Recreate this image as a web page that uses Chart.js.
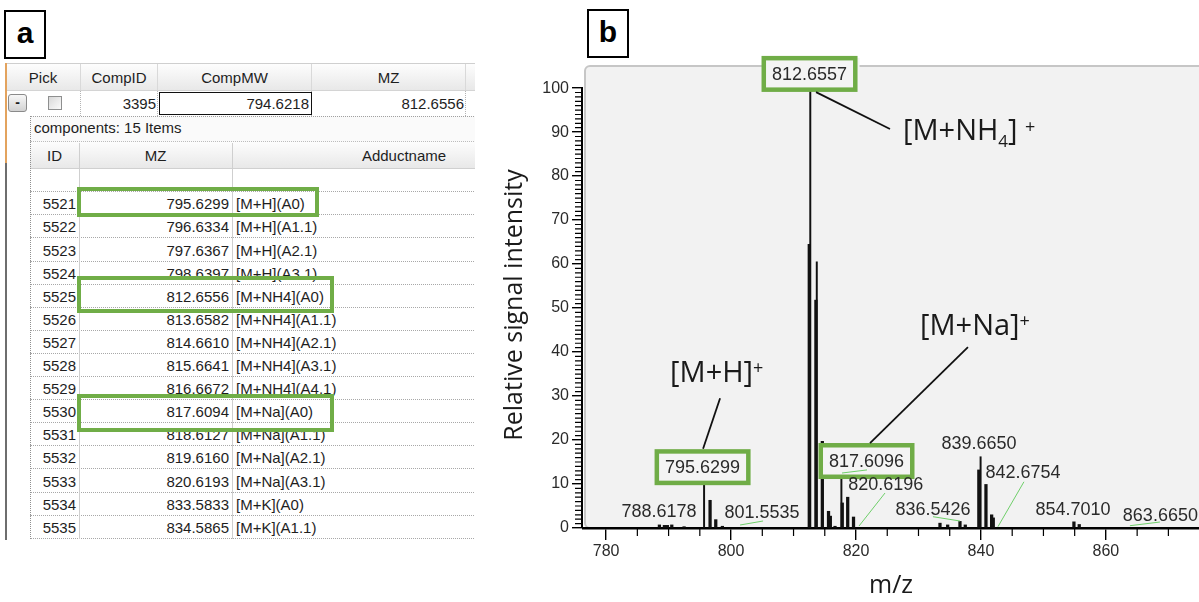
<!DOCTYPE html>
<html>
<head>
<meta charset="utf-8">
<script src="https://cdn.jsdelivr.net/npm/chart.js@4.4.1/dist/chart.umd.min.js"></script>
<style>
    body { margin: 0; width: 1199px; height: 602px; background: #fff; position: relative; overflow: hidden; font-family: 'Liberation Sans', Arial, sans-serif; }
    .panel-tag { position: absolute; width: 38px; height: 45px; border: 2px solid #000; font: bold 30px 'Liberation Sans', Arial, sans-serif; text-align: center; line-height: 42px; }
    #grid { position: absolute; left: 0; top: 0; width: 475px; height: 602px; overflow: hidden; font-size: 15px; color: #1e1e1e; }
    #grid div { position: absolute; box-sizing: border-box; white-space: nowrap; }
    #spectrum { position: absolute; left: 490px; top: 0; }
</style>
</head>
<body>
<div class="panel-tag" style="left:4px;top:10px;">a</div>
<div class="panel-tag" style="left:587px;top:9px;">b</div>
<div id="grid"></div>
<canvas id="spectrum" width="709" height="602"></canvas>

<script>
    // ---- panel a: component table ----
    const compColumns = ['Pick', 'CompID', 'CompMW', 'MZ'];
    const compValues = ['', '3395', '794.6218', '812.6556'];
    const componentCaption = 'components: 15 Items';
    const componentColumns = ['ID', 'MZ', 'Adductname'];
    const componentIds = [5521, 5522, 5523, 5524, 5525, 5526, 5527, 5528, 5529, 5530, 5531, 5532, 5533, 5534, 5535];
    const componentMz = ['795.6299', '796.6334', '797.6367', '798.6397', '812.6556', '813.6582', '814.6610', '815.6641',
        '816.6672', '817.6094', '818.6127', '819.6160', '820.6193', '833.5833', '834.5865'];
    const adductNames = ['[M+H](A0)', '[M+H](A1.1)', '[M+H](A2.1)', '[M+H](A3.1)', '[M+NH4](A0)', '[M+NH4](A1.1)',
        '[M+NH4](A2.1)', '[M+NH4](A3.1)', '[M+NH4](A4.1)', '[M+Na](A0)', '[M+Na](A1.1)', '[M+Na](A2.1)',
        '[M+Na](A3.1)', '[M+K](A0)', '[M+K](A1.1)'];

    // ---- panel b: spectrum ----
    const profileMz = [788.53, 789.33, 789.81, 790.51, 792.48, 796.64, 797.55, 798.61, 812.52, 813.58, 814.61, 815.6,
        815.89, 816.64, 817.8, 818.67, 819.6, 833.44, 834.67, 836.64, 837.49, 839.66, 840.8, 841.71, 841.97, 854.88, 855.73];
    const profileIntensity = [0.7, 0.6, 0.6, 0.7, 0.3, 6.3, 1.9, 0.4, 64.5, 51.8, 19.7, 3.8,
        2.7, 0.4, 5.7, 7.0, 2.5, 1.1, 0.7, 1.5, 0.7, 13.2, 9.9, 3.0, 2.3, 1.4, 0.8];
    const centroidMz = [795.68, 812.68, 813.72, 817.66, 839.94];
    const centroidIntensity = [10.5, 100, 60.5, 14, 16.2];
    const peakLabels = ['788.6178', '795.6299', '801.5535', '812.6557', '817.6096', '820.6196', '836.5426',
        '839.6650', '842.6754', '854.7010', '863.6650'];
    const boxedLabels = ['795.6299', '812.6557', '817.6096'];
    const xTicks = [780, 800, 820, 840, 860];
    const yTicks = [0, 10, 20, 30, 40, 50, 60, 70, 80, 90, 100];

    // label placement in data units (m/z, intensity) - layout only
    const peakLabelAt = {
        '788.6178': [788.48, 3.6], '795.6299': [795.44, 13.6], '801.5535': [804.96, 3.4],
        '812.6557': [812.56, 103.0], '817.6096': [821.68, 15.0], '820.6196': [824.75, 9.8],
        '836.5426': [832.32, 4.1], '839.6650': [839.68, 19.0], '842.6754': [846.72, 12.6],
        '854.7010': [854.72, 4.1], '863.6650': [868.72, 2.8],
    };
    const greenLeaders = [
        [[801.44, 0.68], [805.12, 1.59]], [[817.76, 12.5], [821.76, 13.2]], [[820.48, 0.45], [824.64, 7.95]],
        [[832.32, 2.57], [836.64, 1.59]], [[842.72, 0.3], [846.88, 10.5]], [[863.84, 0.52], [868.64, 1.36]],
    ];
    // text parts: 0 normal, 1 subscript, 2 superscript
    const adductLabels = [
        { parts: [['[M+NH', 0], ['4', 1], ['] ', 0], ['+', 2]], at: [827.52, 88.2], leader: [[813.6, 99.1], [825.44, 90.7]] },
        { parts: [['[M+Na]', 0], ['+', 2]], at: [830.24, 43.9], leader: [[837.92, 41.1], [822.24, 19.3]] },
        { parts: [['[M+H]', 0], ['+', 2]], at: [790.24, 33.2], leader: [[798.24, 29.5], [795.52, 18.0]] },
    ];

    const grid = document.getElementById('grid');
    function cell(css, text) {
        const d = document.createElement('div');
        d.style.cssText = css;
        if (text != null) d.textContent = text;
        grid.appendChild(d);
        return d;
    }

    function buildTable() {
        const masterCols = [[6, 81], [81, 158], [158, 312], [312, 466], [466, 480]];
        cell('left:6px;top:63px;width:474px;height:28px;background:linear-gradient(#fdfdfd,#e8e8e8);border-top:1px solid #cfcfcf;border-bottom:1px solid #d4d4d4;');
        masterCols.forEach(([l, r], i) => {
            cell(`left:${l}px;top:64px;width:${r - l}px;height:26px;line-height:27px;text-align:center;border-right:1px solid #d9d9d9;`, compColumns[i] || '');
            cell(`left:${r - 1}px;top:91px;width:1px;height:25px;border-left:1px dotted #b4b4b4;`);
        });

        cell('left:8px;top:94px;width:19px;height:18px;border:1px solid #8a8a8a;border-radius:3px;background:linear-gradient(#f7f7f7,#d2d2d2);text-align:center;line-height:14px;font-size:14px;font-weight:bold;', '-');
        cell('left:48px;top:96px;width:14px;height:14px;border:1px solid #8e8f8f;background:linear-gradient(135deg,#d8d8d8,#fbfbfb);');
        cell('left:81px;top:91px;width:75px;height:25px;line-height:25px;text-align:right;', compValues[1]);
        cell('left:159px;top:92px;width:153px;height:23px;border:1px solid #111;line-height:21px;text-align:right;padding-right:2px;', compValues[2]);
        cell('left:312px;top:91px;width:152px;height:25px;line-height:25px;text-align:right;', compValues[3]);

        // frame lines
        cell('left:5px;top:63px;width:2px;height:100px;background:#e3a35e;');
        cell('left:5px;top:163px;width:2px;height:377px;background:#6e6e6e;');

        // detail band
        cell('left:30px;top:116px;width:450px;height:26px;background:#fafafa;border-top:1px dotted #a0a0a0;border-bottom:1px dotted #bdbdbd;padding-left:4px;line-height:22px;', componentCaption);
        cell('left:30px;top:142px;width:450px;height:27px;background:linear-gradient(#fdfdfd,#e8e8e8);border-bottom:1px solid #d0d0d0;');
        const subCols = [[30, 79], [79, 232], [232, 576]];
        subCols.forEach(([l, r], i) => {
            cell(`left:${l}px;top:143px;width:${r - l}px;height:26px;line-height:26px;text-align:center;`, componentColumns[i]);
        });
        cell('left:30px;top:169px;width:450px;height:23px;background:#fff;border-bottom:1px dotted #a8a8a8;');

        const rowTop = 192.3, rowH = 23.1;
        componentIds.forEach((id, i) => {
            const top = rowTop + i * rowH;
            cell(`left:30px;top:${top}px;width:450px;height:${rowH}px;border-bottom:1px dotted #a8a8a8;`);
            cell(`left:30px;top:${top}px;width:46px;height:${rowH}px;line-height:${rowH}px;text-align:right;`, String(id));
            cell(`left:79px;top:${top}px;width:152px;height:${rowH}px;line-height:${rowH}px;text-align:right;padding-right:2px;`, componentMz[i]);
            cell(`left:232px;top:${top}px;width:240px;height:${rowH}px;line-height:${rowH}px;padding-left:4px;`, adductNames[i]);
        });
        const bottom = rowTop + componentIds.length * rowH;
        cell(`left:30px;top:116px;width:1px;height:${bottom - 116}px;border-left:1px dotted #8f8f8f;`);
        [79, 232].forEach((x) => cell(`left:${x}px;top:143px;width:1px;height:${bottom - 143}px;background:#cfcfcf;`));

        // highlight frames
        [[77, 187, 242, 30], [77, 276, 257, 37], [77, 394, 257, 38]].forEach(([l, t, w, h]) => {
            cell(`left:${l}px;top:${t}px;width:${w}px;height:${h}px;border:4.5px solid #70ad47;`);
        });
    }
    buildTable();

    const toPoints = (xs, ys) => xs.map((x, i) => ({ x, y: ys[i] }));
    const LABEL_FONT = "18px 'Liberation Sans', Arial, sans-serif";
    const ADDUCT_FAMILY = "'Open Sans', 'Noto Sans', sans-serif";

    const spectrumDecor = {
        id: 'spectrumDecor',
        beforeDraw(chart) {
            const { ctx, chartArea: a } = chart;
            ctx.save();
            ctx.fillStyle = '#f2f2f2';
            ctx.strokeStyle = '#c6c6c6';
            ctx.lineWidth = 2;
            ctx.beginPath();
            ctx.roundRect(a.left + 2, a.top - 1, a.right - a.left + 10, a.bottom - a.top + 1, 5);
            ctx.fill();
            ctx.stroke();
            ctx.restore();
        },
        afterDraw(chart) {
            const { ctx, chartArea: a, scales } = chart;
            const px = (v) => scales.x.getPixelForValue(v);
            const py = (v) => scales.y.getPixelForValue(v);
            ctx.save();

            // y axis line and minor ticks
            ctx.strokeStyle = '#000';
            ctx.lineWidth = 2;
            ctx.beginPath();
            ctx.moveTo(a.left - 1, py(0));
            ctx.lineTo(a.left - 1, py(100));
            ctx.stroke();
            ctx.lineWidth = 1.2;
            ctx.beginPath();
            for (let v = 1; v < 100; v++) {
                if (v % 10 === 0) continue;
                ctx.moveTo(a.left - 8, py(v));
                ctx.lineTo(a.left, py(v));
            }
            for (let v = 780; v <= 870; v += 5) {
                if (v % 20 === 0) continue;
                ctx.moveTo(px(v), a.bottom);
                ctx.lineTo(px(v), a.bottom + 8);
            }
            ctx.stroke();

            // green leaders
            ctx.strokeStyle = '#6fcf6a';
            ctx.lineWidth = 1;
            greenLeaders.forEach(([p, q]) => {
                ctx.beginPath();
                ctx.moveTo(px(p[0]), py(p[1]));
                ctx.lineTo(px(q[0]), py(q[1]));
                ctx.stroke();
            });

            // peak labels
            ctx.font = LABEL_FONT;
            ctx.textAlign = 'center';
            ctx.textBaseline = 'middle';
            peakLabels.forEach((label) => {
                const [mz, v] = peakLabelAt[label];
                const x = px(mz), y = py(v);
                if (boxedLabels.includes(label)) {
                    ctx.fillStyle = '#f4f4f4';
                    ctx.strokeStyle = '#70ad47';
                    ctx.lineWidth = 4.5;
                    ctx.fillRect(x - 46, y - 17, 96, 32);
                    ctx.strokeRect(x - 45.75, y - 16.75, 91.5, 31.5);
                    if (label === '817.6096') {
                        const [p, q] = greenLeaders[1];
                        ctx.strokeStyle = '#6fcf6a';
                        ctx.lineWidth = 1;
                        ctx.beginPath();
                        ctx.moveTo(px(p[0]), py(p[1]));
                        ctx.lineTo(px(q[0]), py(q[1]));
                        ctx.stroke();
                    }
                }
                ctx.fillStyle = '#2a2a2a';
                ctx.fillText(label, x, y);
            });

            // adduct annotations
            ctx.strokeStyle = '#111';
            ctx.lineWidth = 1.8;
            ctx.fillStyle = '#1a1a1a';
            ctx.textAlign = 'left';
            ctx.textBaseline = 'alphabetic';
            adductLabels.forEach(({ parts, at, leader }) => {
                ctx.beginPath();
                ctx.moveTo(px(leader[0][0]), py(leader[0][1]));
                ctx.lineTo(px(leader[1][0]), py(leader[1][1]));
                ctx.stroke();
                let x = px(at[0]);
                const base = py(at[1]);
                parts.forEach(([t, kind]) => {
                    const size = kind === 0 ? 29 : kind === 1 ? 17 : 18;
                    const dy = kind === 1 ? 7 : kind === 2 ? -7.5 : 0;
                    ctx.font = `${size}px ${ADDUCT_FAMILY}`;
                    ctx.fillText(t, x, base + dy);
                    x += ctx.measureText(t).width;
                });
            });

            // axis titles
            ctx.font = `25px ${ADDUCT_FAMILY}`;
            ctx.textAlign = 'center';
            ctx.textBaseline = 'middle';
            ctx.fillText('m/z', (a.left + a.right) / 2, 586);
            ctx.translate(25, 305);
            ctx.rotate(-Math.PI / 2);
            ctx.fillText('Relative signal intensity', 0, 0);
            ctx.restore();
        },
    };

    const tickFont = { family: "'Liberation Sans', Arial, sans-serif", size: 16 };

    new Chart(document.getElementById('spectrum'), {
        type: 'bar',
        data: {
            datasets: [
                { data: toPoints(profileMz, profileIntensity), backgroundColor: '#111', barThickness: 2.6, grouped: false },
                { data: toPoints(centroidMz, centroidIntensity), backgroundColor: '#111', barThickness: 1.3, grouped: false },
            ],
        },
        options: {
            responsive: false,
            animation: false,
            devicePixelRatio: 1,
            layout: { padding: { top: 67, left: 0, right: 0, bottom: 0 } },
            plugins: { legend: { display: false }, tooltip: { enabled: false } },
            scales: {
                x: {
                    type: 'linear', min: 776.3, max: 874.9, offset: false,
                    grid: { drawOnChartArea: false, offset: false, tickLength: 12, color: '#000', lineWidth: 1.4 },
                    border: { display: true, color: '#000', width: 2.6 },
                    ticks: { font: tickFont, color: '#2a2a2a', padding: 2, maxRotation: 0, autoSkip: false },
                    afterBuildTicks: (s) => { s.ticks = xTicks.map((v) => ({ value: v })); },
                    afterFit: (s) => { s.height = 74; },
                },
                y: {
                    min: 0, max: 104.8,
                    grid: { drawOnChartArea: false, tickLength: 11, color: '#000', lineWidth: 1.4 },
                    border: { display: false },
                    ticks: { font: tickFont, color: '#2a2a2a', padding: 3, autoSkip: false },
                    afterBuildTicks: (s) => { s.ticks = yTicks.map((v) => ({ value: v })); },
                    afterFit: (s) => { s.width = 93; },
                },
            },
        },
        plugins: [spectrumDecor],
    });
</script>
</body>
</html>
